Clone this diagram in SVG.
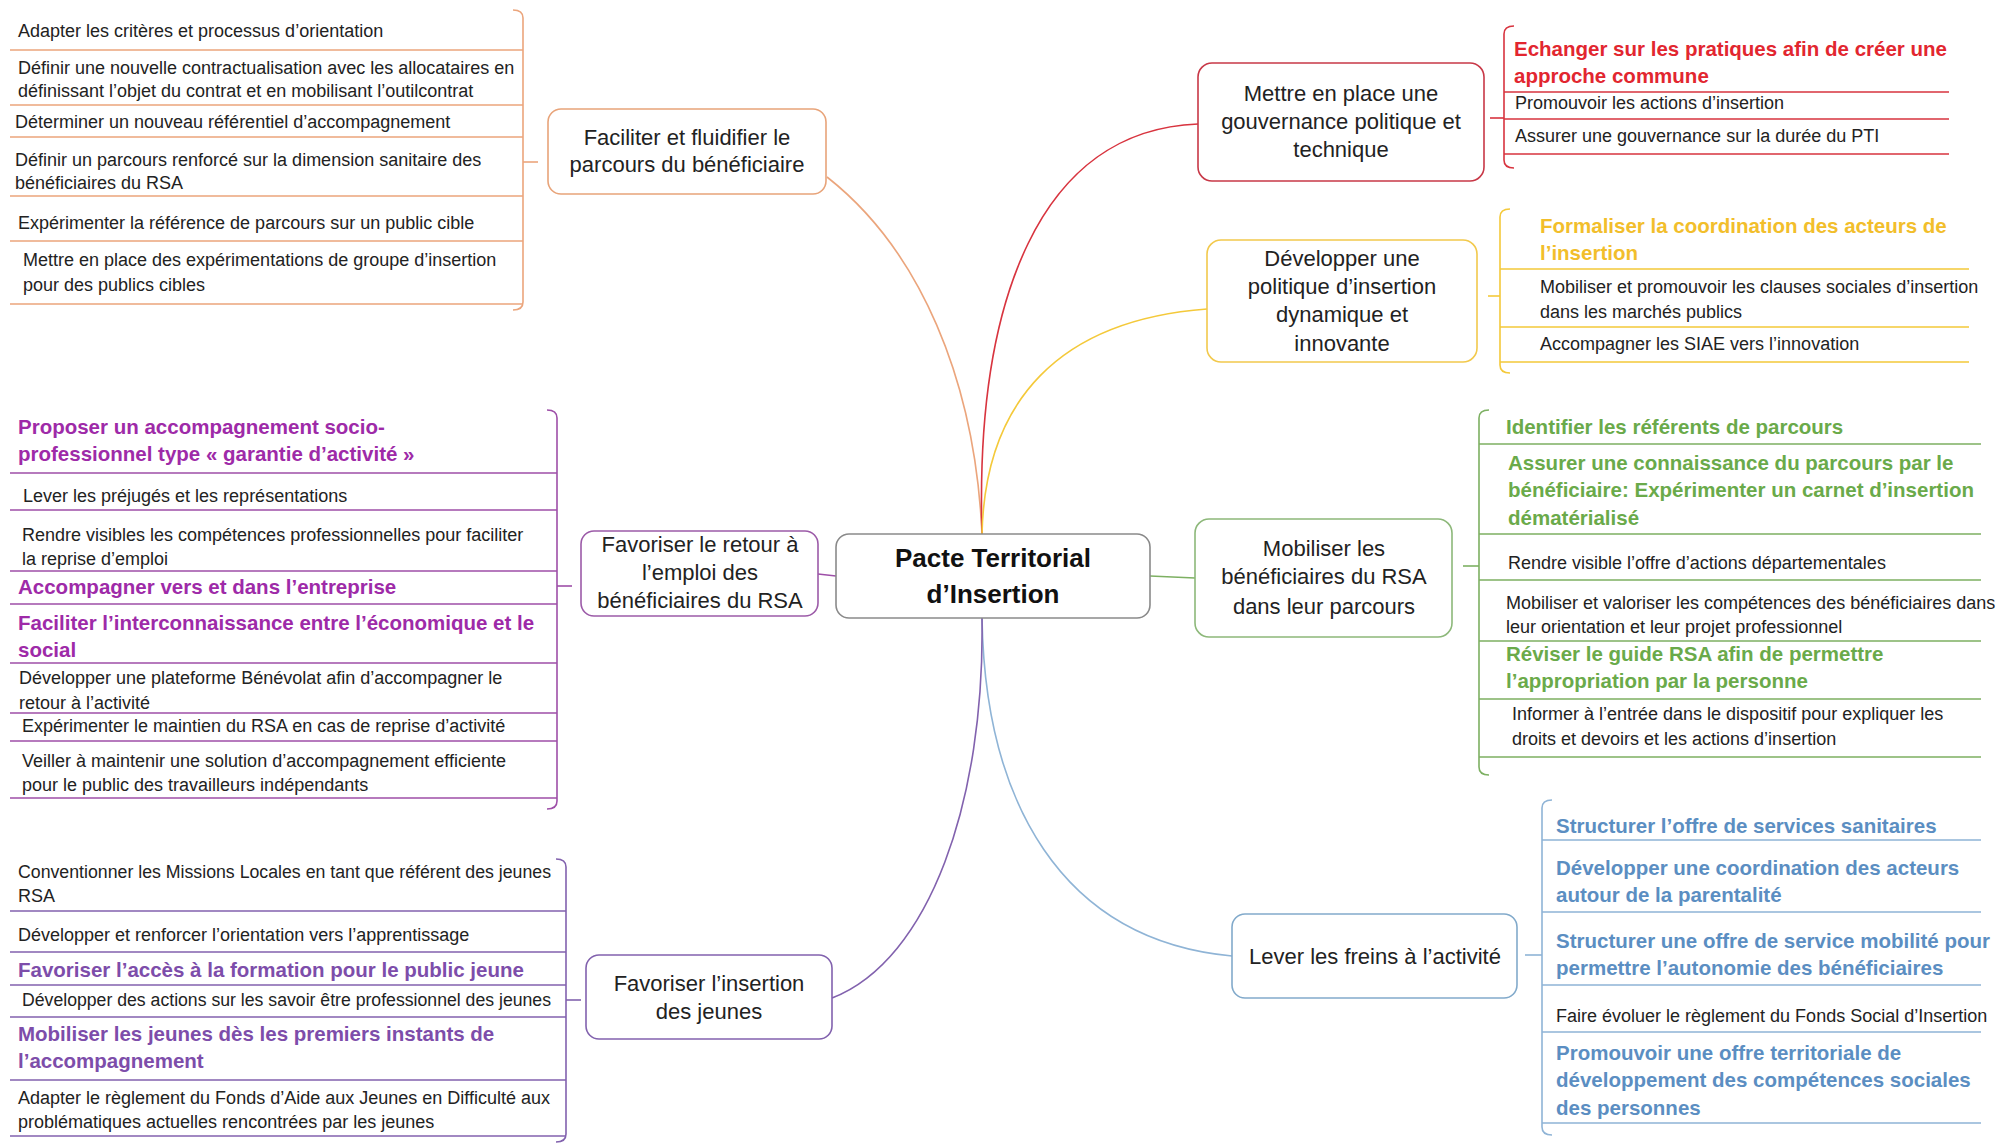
<svg xmlns="http://www.w3.org/2000/svg" width="2011" height="1144" viewBox="0 0 2011 1144">
<style>
text{font-family:"Liberation Sans",Arial,sans-serif;fill:#222}
.s{font-size:18px}
.b{font-size:20.5px;font-weight:bold}
.n{font-size:22px;text-anchor:middle}
.c{font-size:26px;font-weight:bold;text-anchor:middle;fill:#111}
.box{fill:#fff;stroke-width:1.6}
.ln{fill:none;stroke-width:1.6}
.or{stroke:#EBA57C}.rd{stroke:#D8343F}.ye{stroke:#F4C93A}.gr{stroke:#7DB062}.bl{stroke:#8FB4D6}.pu{stroke:#9E4FA8}.vi{stroke:#8262AE}
.tr{fill:#E2262F}.ty{fill:#F2BE2B}.tg{fill:#6AAA4A}.tb{fill:#5B8EC2}.tp{fill:#9E2AA8}.tv{fill:#7D4DAA}
</style>

<g id="connectors">
<path class="ln or" d="M982,534 C975,380 920,250 827,177"/>
<path class="ln rd" d="M982,534 C975,300 1040,130 1198,124"/>
<path class="ln ye" d="M982,534 C985,400 1060,320 1207,309"/>
<path class="ln gr" d="M1150,576 L1195,578"/>
<path class="ln bl" d="M982,618 C985,800 1060,940 1232,956"/>
<path class="ln vi" d="M982,618 C985,800 930,960 832,998"/>
<path class="ln pu" d="M836,576 L818,574"/>
<path class="ln or" d="M523,162 H538"/>
<path class="ln rd" d="M1490,118 H1504"/>
<path class="ln ye" d="M1488,296 H1500"/>
<path class="ln gr" d="M1463,566 H1479"/>
<path class="ln bl" d="M1525,955 H1542"/>
<path class="ln pu" d="M557,586 H572"/>
<path class="ln vi" d="M566,1000 H581"/>
</g>

<g id="center">
<rect class="box" x="836" y="534" width="314" height="84" rx="13" stroke="#8a8a8a"/>
<text class="c" x="993" y="567">Pacte Territorial</text>
<text class="c" x="993" y="603">d’Insertion</text>
</g>

<g id="node-parcours">
<rect class="box" x="548" y="109" width="278" height="85" rx="13" stroke="#E8A47A"/>
<text class="n" x="687" y="145">Faciliter et fluidifier le</text>
<text class="n" x="687" y="172">parcours du bénéficiaire</text>
</g>
<g id="items-parcours">
<path class="ln or" d="M513,10 Q523,10 523,18 V302 Q523,310 513,310"/>
<path class="ln or" d="M10,50 H523 M10,105 H523 M10,137 H523 M10,196 H523 M10,241 H523 M10,304 H523"/>
<text class="s" x="18" y="37">Adapter les critères et processus d’orientation</text>
<text class="s" x="18" y="74">Définir une nouvelle contractualisation avec les allocataires en</text>
<text class="s" x="18" y="97">définissant l’objet du contrat et en mobilisant l’outilcontrat</text>
<text class="s" x="15" y="128">Déterminer un nouveau référentiel d’accompagnement</text>
<text class="s" x="15" y="166">Définir un parcours renforcé sur la dimension sanitaire des</text>
<text class="s" x="15" y="189">bénéficiaires du RSA</text>
<text class="s" x="18" y="229">Expérimenter la référence de parcours sur un public cible</text>
<text class="s" x="23" y="266">Mettre en place des expérimentations de groupe d’insertion</text>
<text class="s" x="23" y="291">pour des publics cibles</text>
</g>

<g id="node-gouvernance">
<rect class="box" x="1198" y="63" width="286" height="118" rx="14" stroke="#C83847"/>
<text class="n" x="1341" y="101">Mettre en place une</text>
<text class="n" x="1341" y="129">gouvernance politique et</text>
<text class="n" x="1341" y="157">technique</text>
</g>
<g id="items-gouvernance">
<path class="ln rd" d="M1514,26 Q1504,26 1504,34 V160 Q1504,168 1514,168"/>
<path class="ln rd" d="M1504,92 H1949 M1504,119 H1949 M1504,154 H1949"/>
<text class="b tr" x="1514" y="56">Echanger sur les pratiques afin de créer une</text>
<text class="b tr" x="1514" y="83">approche commune</text>
<text class="s" x="1515" y="109">Promouvoir les actions d’insertion</text>
<text class="s" x="1515" y="142">Assurer une gouvernance sur la durée du PTI</text>
</g>

<g id="node-politique">
<rect class="box" x="1207" y="240" width="270" height="122" rx="14" stroke="#F2C94C"/>
<text class="n" x="1342" y="266">Développer une</text>
<text class="n" x="1342" y="294">politique d’insertion</text>
<text class="n" x="1342" y="322">dynamique et</text>
<text class="n" x="1342" y="351">innovante</text>
</g>
<g id="items-politique">
<path class="ln ye" d="M1510,209 Q1500,209 1500,217 V365 Q1500,373 1510,373"/>
<path class="ln ye" d="M1500,269 H1969 M1500,327 H1969 M1500,362 H1969"/>
<text class="b ty" x="1540" y="233">Formaliser la coordination des acteurs de</text>
<text class="b ty" x="1540" y="260">l’insertion</text>
<text class="s" x="1540" y="293">Mobiliser et promouvoir les clauses sociales d’insertion</text>
<text class="s" x="1540" y="318">dans les marchés publics</text>
<text class="s" x="1540" y="350">Accompagner les SIAE vers l’innovation</text>
</g>

<g id="node-mobiliser">
<rect class="box" x="1195" y="519" width="257" height="118" rx="14" stroke="#8DB87A"/>
<text class="n" x="1324" y="556">Mobiliser les</text>
<text class="n" x="1324" y="584">bénéficiaires du RSA</text>
<text class="n" x="1324" y="614">dans leur parcours</text>
</g>
<g id="items-mobiliser">
<path class="ln gr" d="M1489,410 Q1479,410 1479,418 V767 Q1479,775 1489,775"/>
<path class="ln gr" d="M1479,444 H1981 M1479,534 H1981 M1479,580 H1981 M1479,641 H1981 M1479,699 H1981 M1479,757 H1981"/>
<text class="b tg" x="1506" y="434">Identifier les référents de parcours</text>
<text class="b tg" x="1508" y="470">Assurer une connaissance du parcours par le</text>
<text class="b tg" x="1508" y="497">bénéficiaire: Expérimenter un carnet d’insertion</text>
<text class="b tg" x="1508" y="525">dématérialisé</text>
<text class="s" x="1508" y="569">Rendre visible l’offre d’actions départementales</text>
<text class="s" x="1506" y="609">Mobiliser et valoriser les compétences des bénéficiaires dans</text>
<text class="s" x="1506" y="633">leur orientation et leur projet professionnel</text>
<text class="b tg" x="1506" y="661">Réviser le guide RSA afin de permettre</text>
<text class="b tg" x="1506" y="688">l’appropriation par la personne</text>
<text class="s" x="1512" y="720">Informer à l’entrée dans le dispositif pour expliquer les</text>
<text class="s" x="1512" y="745">droits et devoirs et les actions d’insertion</text>
</g>

<g id="node-freins">
<rect class="box" x="1232" y="914" width="285" height="84" rx="13" stroke="#82AACB"/>
<text class="n" x="1375" y="964">Lever les freins à l’activité</text>
</g>
<g id="items-freins">
<path class="ln bl" d="M1552,800 Q1542,800 1542,808 V1127 Q1542,1135 1552,1135"/>
<path class="ln bl" d="M1542,840 H1981 M1542,912 H1981 M1542,985 H1981 M1542,1032 H1981 M1542,1123 H1981"/>
<text class="b tb" x="1556" y="833">Structurer l’offre de services sanitaires</text>
<text class="b tb" x="1556" y="875">Développer une coordination des acteurs</text>
<text class="b tb" x="1556" y="902">autour de la parentalité</text>
<text class="b tb" x="1556" y="948">Structurer une offre de service mobilité pour</text>
<text class="b tb" x="1556" y="975">permettre l’autonomie des bénéficiaires</text>
<text class="s" x="1556" y="1022">Faire évoluer le règlement du Fonds Social d’Insertion</text>
<text class="b tb" x="1556" y="1060">Promouvoir une offre territoriale de</text>
<text class="b tb" x="1556" y="1087">développement des compétences sociales</text>
<text class="b tb" x="1556" y="1115">des personnes</text>
</g>

<g id="node-retour">
<rect class="box" x="581" y="531" width="237" height="85" rx="13" stroke="#9C5BA8"/>
<text class="n" x="700" y="552">Favoriser le retour à</text>
<text class="n" x="700" y="580">l’emploi des</text>
<text class="n" x="700" y="608">bénéficiaires du RSA</text>
</g>
<g id="items-retour">
<path class="ln pu" d="M547,410 Q557,410 557,418 V801 Q557,809 547,809"/>
<path class="ln pu" d="M10,473 H557 M10,510 H557 M10,571 H557 M10,604 H557 M10,663 H557 M10,713 H557 M10,741 H557 M10,798 H557"/>
<text class="b tp" x="18" y="434">Proposer un accompagnement socio-</text>
<text class="b tp" x="18" y="461">professionnel type « garantie d’activité »</text>
<text class="s" x="23" y="502">Lever les préjugés et les représentations</text>
<text class="s" x="22" y="541">Rendre visibles les compétences professionnelles pour faciliter</text>
<text class="s" x="22" y="565">la reprise d’emploi</text>
<text class="b tp" x="18" y="594">Accompagner vers et dans l’entreprise</text>
<text class="b tp" x="18" y="630">Faciliter l’interconnaissance entre l’économique et le</text>
<text class="b tp" x="18" y="657">social</text>
<text class="s" x="19" y="684">Développer une plateforme Bénévolat afin d’accompagner le</text>
<text class="s" x="19" y="709">retour à l’activité</text>
<text class="s" x="22" y="732">Expérimenter le maintien du RSA en cas de reprise d’activité</text>
<text class="s" x="22" y="767">Veiller à maintenir une solution d’accompagnement efficiente</text>
<text class="s" x="22" y="791">pour le public des travailleurs indépendants</text>
</g>

<g id="node-jeunes">
<rect class="box" x="586" y="955" width="246" height="84" rx="13" stroke="#8262AE"/>
<text class="n" x="709" y="991">Favoriser l’insertion</text>
<text class="n" x="709" y="1019">des jeunes</text>
</g>
<g id="items-jeunes">
<path class="ln vi" d="M556,859 Q566,859 566,867 V1134 Q566,1142 556,1142"/>
<path class="ln vi" d="M10,911 H566 M10,952 H566 M10,985 H566 M10,1017 H566 M10,1080 H566 M10,1136 H566"/>
<text class="s" x="18" y="878" textLength="533" lengthAdjust="spacingAndGlyphs">Conventionner les Missions Locales en tant que référent des jeunes</text>
<text class="s" x="18" y="902">RSA</text>
<text class="s" x="18" y="941">Développer et renforcer l’orientation vers l’apprentissage</text>
<text class="b tv" x="18" y="977">Favoriser l’accès à la formation pour le public jeune</text>
<text class="s" x="22" y="1006" textLength="529" lengthAdjust="spacingAndGlyphs">Développer des actions sur les savoir être professionnel des jeunes</text>
<text class="b tv" x="18" y="1041">Mobiliser les jeunes dès les premiers instants de</text>
<text class="b tv" x="18" y="1068">l’accompagnement</text>
<text class="s" x="18" y="1104">Adapter le règlement du Fonds d’Aide aux Jeunes en Difficulté aux</text>
<text class="s" x="18" y="1128">problématiques actuelles rencontrées par les jeunes</text>
</g>
</svg>
